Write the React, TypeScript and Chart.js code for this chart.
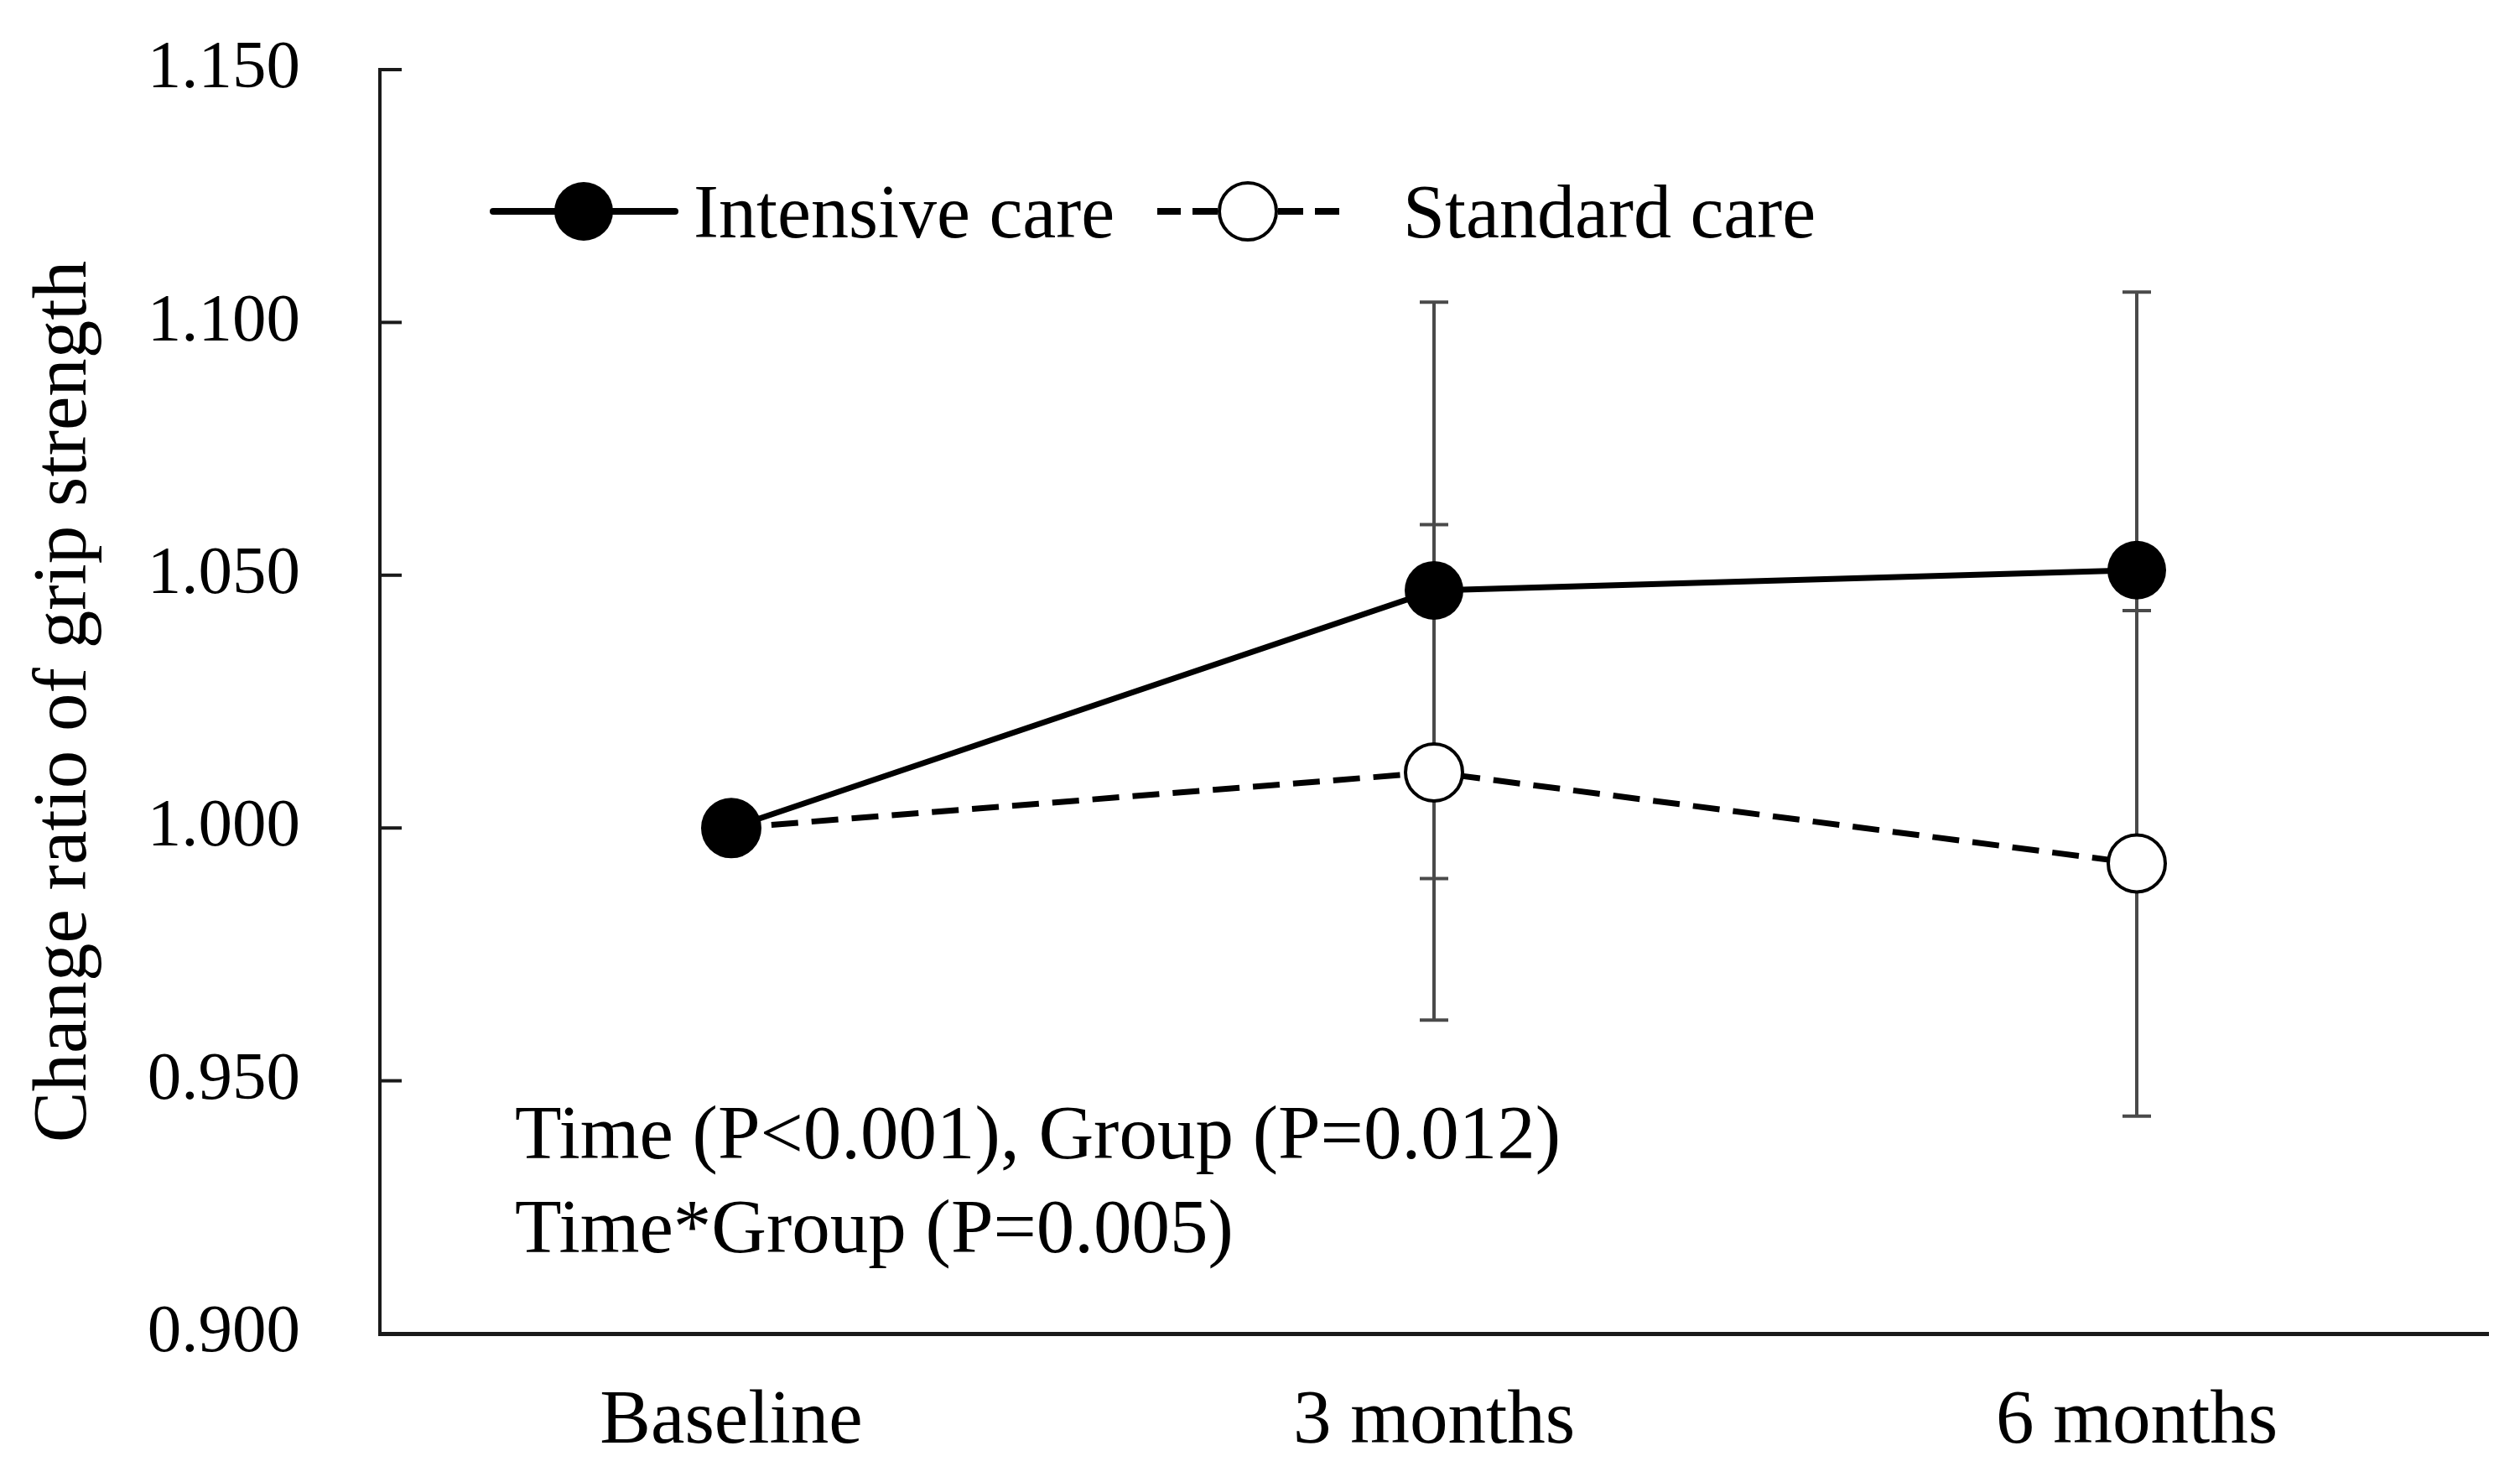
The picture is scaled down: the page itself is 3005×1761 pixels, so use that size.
import React, { useEffect, useRef } from 'react';
import { Chart, registerables } from 'chart.js';

Chart.register(...registerables);

const categories = ['Baseline', '3 months', '6 months'];
const seriesNames = ['Intensive care', 'Standard care'];
const intensiveMean = [1.0, 1.047, 1.051];
const intensiveErr = [0, 0.057, 0.055];
const standardMean = [1.0, 1.011, 0.993];
const standardErr = [0, 0.049, 0.05];
const yTicks = [0.9, 0.95, 1.0, 1.05, 1.1, 1.15];
const yTitle = 'Change ratio of grip strength';
const statLines = ['Time (P<0.001), Group (P=0.012)', 'Time*Group (P=0.005)'];

const FONT = '"Liberation Serif", "Times New Roman", serif';
const errors = [intensiveErr, standardErr];

const errorBarPlugin = {
  id: 'errorBars',
  beforeDatasetsDraw(chart: any) {
    const { ctx, scales } = chart;
    const y = scales.y;
    ctx.save();
    ctx.strokeStyle = '#4a4a4a';
    ctx.lineWidth = 4;
    chart.data.datasets.forEach((ds: any, d: number) => {
      const meta = chart.getDatasetMeta(d);
      ds.data.forEach((v: number, i: number) => {
        const e = errors[d][i];
        if (!e) return;
        const px = meta.data[i].x;
        const top = y.getPixelForValue(v + e);
        const bot = y.getPixelForValue(v - e);
        ctx.beginPath();
        ctx.moveTo(px, top);
        ctx.lineTo(px, bot);
        ctx.moveTo(px - 17, top);
        ctx.lineTo(px + 17, top);
        ctx.moveTo(px - 17, bot);
        ctx.lineTo(px + 17, bot);
        ctx.stroke();
      });
    });
    ctx.restore();
  },
};

const decorPlugin = {
  id: 'decor',
  afterDraw(chart: any) {
    const { ctx, scales, chartArea } = chart;
    const y = scales.y;
    ctx.save();
    // inward y ticks
    ctx.strokeStyle = '#1a1a1a';
    ctx.lineWidth = 4;
    y.ticks.forEach((t: any) => {
      const py = y.getPixelForValue(t.value);
      ctx.beginPath();
      ctx.moveTo(chartArea.left, py);
      ctx.lineTo(chartArea.left + 26, py);
      ctx.stroke();
    });

    // legend
    const ds = chart.data.datasets;
    const ly = 252;
    const items = [
      { x0: 588, x1: 805, mx: 696, tx: 827 },
      { x0: 1380, x1: 1597, mx: 1488, tx: 1673 },
    ];
    items.forEach((it, k) => {
      const d = ds[k];
      ctx.save();
      ctx.strokeStyle = d.borderColor;
      ctx.lineWidth = 8;
      ctx.lineCap = k === 0 ? 'round' : 'butt';
      if (k === 1) {
        const segs = [
          [1380, 1408],
          [1422, 1452],
          [1524, 1554],
          [1568, 1597],
        ];
        segs.forEach(([a, b]) => {
          ctx.beginPath();
          ctx.moveTo(a, ly);
          ctx.lineTo(b, ly);
          ctx.stroke();
        });
      } else {
        ctx.beginPath();
        ctx.moveTo(it.x0, ly);
        ctx.lineTo(it.x1, ly);
        ctx.stroke();
      }
      ctx.beginPath();
      ctx.arc(it.mx, ly, d.pointRadius, 0, Math.PI * 2);
      ctx.fillStyle = d.pointBackgroundColor;
      ctx.fill();
      if (d.pointBorderWidth > 0) {
        ctx.lineWidth = d.pointBorderWidth;
        ctx.strokeStyle = d.pointBorderColor;
        ctx.stroke();
      }
      ctx.restore();
      ctx.fillStyle = '#000';
      ctx.font = `90px ${FONT}`;
      ctx.textBaseline = 'alphabetic';
      ctx.textAlign = 'left';
      ctx.fillText(seriesNames[k], it.tx, 283);
    });

    // statistics text
    ctx.fillStyle = '#000';
    ctx.font = `91px ${FONT}`;
    ctx.textBaseline = 'alphabetic';
    ctx.textAlign = 'left';
    ctx.fillText(statLines[0], 614, 1381);
    ctx.fillText(statLines[1], 614, 1493);
    ctx.restore();
  },
};

export default function App() {
  const ref = useRef<HTMLCanvasElement | null>(null);

  useEffect(() => {
    document.body.style.margin = '0';
    const canvas = ref.current;
    if (!canvas) return;
    const chart = new Chart(canvas, {
      type: 'line',
      data: {
        labels: categories,
        datasets: [
          {
            label: seriesNames[0],
            data: intensiveMean,
            borderColor: '#000',
            borderWidth: 7,
            pointRadius: 35,
            pointHoverRadius: 35,
            pointBackgroundColor: '#000',
            pointBorderColor: '#000',
            pointBorderWidth: 0,
            tension: 0,
            fill: false,
            clip: false as any,
          },
          {
            label: seriesNames[1],
            data: standardMean,
            borderColor: '#000',
            borderWidth: 7,
            borderDash: [32, 16],
            pointRadius: 34,
            pointHoverRadius: 34,
            pointBackgroundColor: '#fff',
            pointBorderColor: '#000',
            pointBorderWidth: 4,
            tension: 0,
            fill: false,
            clip: false as any,
          },
        ],
      },
      options: {
        responsive: false,
        animation: false,
        devicePixelRatio: 1,
        layout: { padding: { left: 0, top: 83, right: 20, bottom: 0 } },
        plugins: {
          legend: { display: false },
          tooltip: { enabled: false },
          title: { display: false },
        },
        events: [],
        scales: {
          x: {
            type: 'category',
            offset: true,
            grid: { display: true, drawOnChartArea: false, drawTicks: true, tickLength: 51, tickColor: 'rgba(0,0,0,0)' },
            border: { display: true, color: '#1a1a1a', width: 5 },
            ticks: {
              color: '#000',
              font: { family: FONT, size: 91 },
              padding: 0,
              maxRotation: 0,
            },
            afterFit: (s: any) => {
              s.height = 171;
              s.paddingLeft = 0;
              s.paddingRight = 0;
            },
          },
          y: {
            type: 'linear',
            min: 0.9,
            max: 1.15,
            grid: { display: true, drawOnChartArea: false, drawTicks: true, tickLength: 95, tickColor: 'rgba(0,0,0,0)' },
            border: { display: true, color: '#1a1a1a', width: 4 },
            afterBuildTicks: (s: any) => {
              s.ticks = yTicks.map((v) => ({ value: v }));
            },
            ticks: {
              color: '#000',
              font: { family: FONT, size: 81 },
              padding: 0,
              callback: (v: any) => Number(v).toFixed(3),
            },
            title: {
              display: true,
              text: yTitle,
              color: '#000',
              font: { family: FONT, size: 91 },
              padding: { top: 23, bottom: 0 },
            },
            afterFit: (s: any) => {
              s.width = 453;
            },
          },
        },
      },
      plugins: [errorBarPlugin, decorPlugin],
    });
    return () => chart.destroy();
  }, []);

  return (
    <div style={{ position: 'absolute', left: 0, top: 0, width: 3005, height: 1761, background: '#fff' }}>
      <canvas ref={ref} width={3005} height={1761} style={{ display: 'block', width: 3005, height: 1761 }} />
    </div>
  );
}
